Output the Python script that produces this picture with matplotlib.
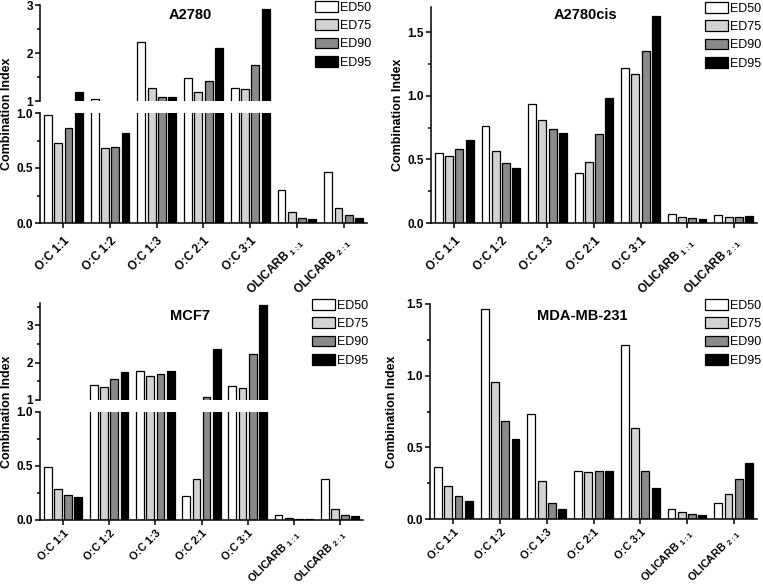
import numpy as np
import matplotlib
matplotlib.use("Agg")
import matplotlib.pyplot as plt
from matplotlib.ticker import FixedLocator, FixedFormatter

plt.rcParams['font.family'] = ['Liberation Sans', 'DejaVu Sans']
plt.rcParams['mathtext.fontset'] = 'custom'
plt.rcParams['mathtext.rm'] = 'Liberation Sans:bold'
plt.rcParams['mathtext.bf'] = 'Liberation Sans:bold'
plt.rcParams['mathtext.default'] = 'bf'

categories = ["O:C 1:1", "O:C 1:2", "O:C 1:3", "O:C 2:1", "O:C 3:1",
              "OLICARB $_{1:1}$", "OLICARB $_{2:1}$"]
series = ["ED50", "ED75", "ED90", "ED95"]
colors = ["#ffffff", "#d2d2d2", "#8a8a8a", "#000000"]

a2780 = {
    "ED50": [0.98, 1.05, 2.23, 1.47, 1.28, 0.30, 0.46],
    "ED75": [0.73, 0.68, 1.28, 1.18, 1.26, 0.10, 0.14],
    "ED90": [0.86, 0.69, 1.09, 1.42, 1.76, 0.05, 0.07],
    "ED95": [1.19, 0.82, 1.09, 2.10, 2.92, 0.04, 0.05],
}
a2780cis = {
    "ED50": [0.55, 0.76, 0.94, 0.39, 1.22, 0.07, 0.06],
    "ED75": [0.53, 0.57, 0.81, 0.48, 1.17, 0.05, 0.05],
    "ED90": [0.58, 0.47, 0.74, 0.70, 1.35, 0.04, 0.05],
    "ED95": [0.65, 0.43, 0.71, 0.98, 1.63, 0.035, 0.055],
}
mcf7 = {
    "ED50": [0.49, 1.41, 1.79, 0.22, 1.38, 0.05, 0.38],
    "ED75": [0.29, 1.35, 1.63, 0.38, 1.32, 0.02, 0.10],
    "ED90": [0.23, 1.55, 1.70, 1.07, 2.22, 0.01, 0.05],
    "ED95": [0.21, 1.74, 1.79, 2.36, 3.55, 0.005, 0.035],
}
mdamb231 = {
    "ED50": [0.36, 1.465, 0.73, 0.335, 1.215, 0.072, 0.113],
    "ED75": [0.233, 0.955, 0.268, 0.33, 0.634, 0.049, 0.175],
    "ED90": [0.16, 0.685, 0.113, 0.335, 0.337, 0.032, 0.28],
    "ED95": [0.125, 0.557, 0.067, 0.335, 0.217, 0.025, 0.389],
}

W, H = 763, 585
fig = plt.figure(figsize=(W / 100, H / 100), dpi=100)

def fr(left, right, top, bottom):
    return [left / W, 1 - bottom / H, (right - left) / W, (bottom - top) / H]

x = np.arange(len(categories))
pitch, width = 0.22, 0.17
offsets = (np.arange(4) - 1.5) * pitch
LW = 1.1

def style(ax, xpad):
    for s in ['top', 'right']:
        ax.spines[s].set_visible(False)
    for s in ['left', 'bottom']:
        ax.spines[s].set_linewidth(LW)
    ax.tick_params(axis='both', which='major', direction='out', length=3.5, width=LW,
                   labelsize=8.5)
    ax.tick_params(axis='x', which='major', pad=xpad)
    ax.tick_params(axis='y', which='major', pad=1.5)
    ax.tick_params(axis='y', which='minor', direction='out', length=2.5, width=LW)

def draw_bars(ax, data):
    for i, s in enumerate(series):
        ax.bar(x + offsets[i], data[s], width, color=colors[i], edgecolor='black',
               linewidth=0.9, label=s)
    ax.set_xlim(-0.5, 6.5)

def xlabels(ax, fs):
    ax.set_xticks(x)
    ax.set_xticklabels(categories, rotation=45, ha='right', va='top',
                       rotation_mode='anchor', fontweight='bold', fontsize=fs)

def ylab(px, top, bottom):
    fig.text(px / W, 1 - ((top + bottom) / 2) / H, "Combination Index",
             rotation=90, ha='center', va='center', fontweight='bold', fontsize=9)

def title(px, py, t):
    fig.text(px / W, 1 - py / H, t, ha='center', va='center',
             fontweight='bold', fontsize=10.5)

def legend(ax, px, py):
    ax.legend(loc='upper left', bbox_to_anchor=(px / W, 1 - py / H),
              bbox_transform=fig.transFigure, frameon=False, fontsize=9,
              handlelength=1.85, handleheight=0.95, handletextpad=0.15,
              labelspacing=0.45, borderpad=0, borderaxespad=0)

def yfmt(ax, ticks, labels, minor):
    ax.yaxis.set_major_locator(FixedLocator(ticks))
    ax.yaxis.set_major_formatter(FixedFormatter(labels))
    ax.yaxis.set_minor_locator(FixedLocator(minor))
    for lab in ax.get_yticklabels():
        lab.set_fontweight('bold')

def broken(data, left, right, top_up, bot_up, top_lo, bot_lo, upmax, uptick, upminor,
           xfs, xpad):
    axu = fig.add_axes(fr(left, right, top_up, bot_up))
    axl = fig.add_axes(fr(left, right, top_lo, bot_lo))
    draw_bars(axu, data)
    draw_bars(axl, data)
    axu.set_ylim(1, upmax)
    axl.set_ylim(0, 1.0)
    style(axu, xpad)
    style(axl, xpad)
    axu.spines['bottom'].set_visible(False)
    axu.tick_params(axis='x', which='both', bottom=False, labelbottom=False)
    yfmt(axu, uptick, [str(int(t)) for t in uptick], upminor)
    yfmt(axl, [0, 0.5, 1.0], ["0.0", "0.5", "1.0"], [0.25, 0.75])
    xlabels(axl, xfs)
    return axu, axl

def single(data, left, right, top, bottom, ymax, xfs, xpad):
    ax = fig.add_axes(fr(left, right, top, bottom))
    draw_bars(ax, data)
    ax.set_ylim(0, ymax)
    style(ax, xpad)
    yfmt(ax, [0, 0.5, 1.0, 1.5], ["0.0", "0.5", "1.0", "1.5"], [0.25, 0.75, 1.25])
    xlabels(ax, xfs)
    return ax

# A2780
axu, axl = broken(a2780, 40, 367, 5, 101, 113, 223, 3.0, [1, 2, 3], [1.5, 2.5], 8.5, 5)
title(190, 15, "A2780")
ylab(7, 5, 223)
legend(axu, 315, 1)

# A2780cis
ax2 = single(a2780cis, 431, 757, 7, 223, 1.70, 8.5, 5)
title(585, 15, "A2780cis")
ylab(398, 7, 223)
legend(ax2, 705, 2)

# MCF7
axu3, axl3 = broken(mcf7, 40, 363, 303, 400, 412, 520, 3.6, [1, 2, 3], [1.5, 2.5, 3.5],
                    7.8, 2.5)
title(190, 316, "MCF7")
ylab(7, 303, 520)
legend(axu3, 312, 299)

# MDA-MB-231
ax4 = single(mdamb231, 430, 757, 304, 519, 1.5, 7.8, 2.5)
title(582, 316, "MDA-MB-231")
ylab(392, 304, 519)
legend(ax4, 705, 299)

fig.savefig("out.png", dpi=100)
